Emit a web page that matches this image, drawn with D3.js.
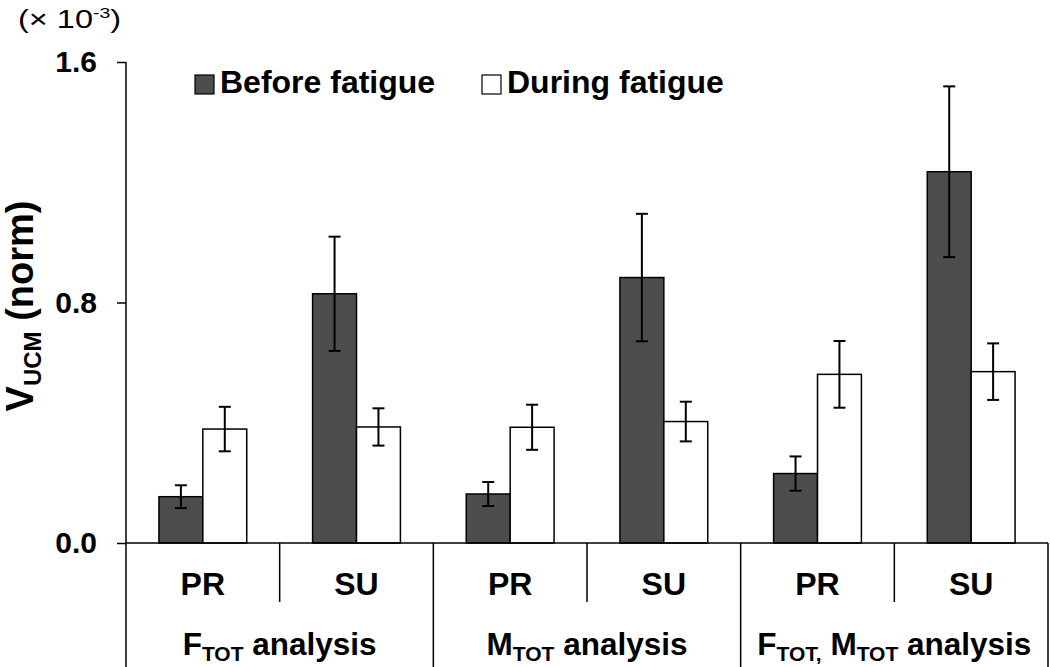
<!DOCTYPE html>
<html><head><meta charset="utf-8">
<script src="https://cdn.jsdelivr.net/npm/d3@7"></script>
<style>
body{margin:0;background:#fff;}
text{font-family:"Liberation Sans",Arial,sans-serif;fill:#000;}
</style></head>
<body><svg id="c" width="1050" height="667"></svg>
<script>
const categories = ["PR","SU","PR","SU","PR","SU"];
const groups = ["F","M","FM"];
const series = ["Before fatigue","During fatigue"];
const beforeVals = [0.154, 0.829, 0.163, 0.883, 0.231, 1.235];
const beforeErr  = [0.038, 0.190, 0.040, 0.212, 0.057, 0.284];
const duringVals = [0.379, 0.386, 0.385, 0.404, 0.561, 0.570];
const duringErr  = [0.074, 0.062, 0.075, 0.066, 0.111, 0.094];
const yTicks = [0.0, 0.8, 1.6];

const svg = d3.select("#c");
const plotLeft = 126, plotRight = 1048, plotTop = 62, base = 543;
const y = d3.scaleLinear().domain([0,1.6]).range([base, plotTop]);
const idx = d3.range(categories.length);
const x0 = d3.scaleBand().domain(idx).range([plotLeft,plotRight]).padding(0);
const x1 = d3.scaleBand().domain(series).range([0,x0.bandwidth()]).paddingInner(0).paddingOuter(0.75);
const colors = {"Before fatigue":"#4d4d4d","During fatigue":"#ffffff"};
const vals = {"Before fatigue":beforeVals,"During fatigue":duringVals};
const errs = {"Before fatigue":beforeErr,"During fatigue":duringErr};

// y axis
const yAxis = d3.axisLeft(y).tickValues(yTicks).tickFormat(d3.format(".1f")).tickSize(9).tickPadding(20);
const ga = svg.append("g").attr("transform",`translate(${plotLeft},0)`).call(yAxis);
ga.select(".domain").remove();
ga.selectAll(".tick line").attr("stroke","#000").attr("stroke-width",1.5);
ga.selectAll(".tick text").attr("font-size",30).attr("font-weight","bold").attr("font-family","Liberation Sans, Arial, sans-serif").attr("fill","#000");
svg.append("line").attr("x1",plotLeft).attr("x2",plotLeft).attr("y1",plotTop).attr("y2",667).attr("stroke","#000").attr("stroke-width",1.5);

// bars
series.forEach(s=>{
  const g = svg.append("g");
  g.selectAll("rect").data(idx).join("rect")
    .attr("x",i=>x0(i)+x1(s)).attr("width",x1.bandwidth())
    .attr("y",i=>y(vals[s][i])).attr("height",i=>base-y(vals[s][i]))
    .attr("fill",colors[s]).attr("stroke","#000").attr("stroke-width",1.5);
});
// error bars
series.forEach(s=>{
  const g = svg.append("g").attr("stroke","#000").attr("stroke-width",2);
  idx.forEach(i=>{
    const cx = x0(i)+x1(s)+x1.bandwidth()/2;
    const v = vals[s][i], e = errs[s][i];
    g.append("line").attr("x1",cx).attr("x2",cx).attr("y1",y(v+e)).attr("y2",y(v-e));
    g.append("line").attr("x1",cx-6).attr("x2",cx+6).attr("y1",y(v+e)).attr("y2",y(v+e));
    g.append("line").attr("x1",cx-6).attr("x2",cx+6).attr("y1",y(v-e)).attr("y2",y(v-e));
  });
});

// baseline
svg.append("line").attr("x1",plotLeft).attr("x2",plotRight).attr("y1",base).attr("y2",base).attr("stroke","#000").attr("stroke-width",1.5);
// dividers
idx.forEach(i=>{
  const xr = x0(i)+x0.bandwidth();
  const long = (i%2===1);
  svg.append("line").attr("x1",xr).attr("x2",xr).attr("y1",base).attr("y2",long?667:602).attr("stroke","#000").attr("stroke-width",1.5);
});
// category labels
svg.append("g").selectAll("text").data(idx).join("text")
  .attr("x",i=>x0(i)+x0.bandwidth()/2).attr("y",595).attr("text-anchor","middle")
  .attr("font-size",32).attr("font-weight","bold").text(i=>categories[i]);

// group labels
function groupLabel(g, cx){
  const t = svg.append("text").attr("x",cx).attr("y",655).attr("text-anchor","middle").attr("font-size",31.5).attr("font-weight","bold");
  const sub = (txt)=>t.append("tspan").attr("font-size",21).attr("dy",6).text(txt);
  const norm = (txt)=>t.append("tspan").attr("font-size",31.5).attr("dy",-6).text(txt);
  if(g==="F"){ t.append("tspan").text("F"); sub("TOT"); norm(" analysis"); }
  else if(g==="M"){ t.append("tspan").text("M"); sub("TOT"); norm(" analysis"); }
  else { t.append("tspan").text("F"); sub("TOT,"); norm(" M"); sub("TOT"); norm(" analysis"); }
}
groups.forEach((g,k)=>{
  const cx = x0(2*k) + x0.bandwidth();
  groupLabel(g,cx);
});

// legend
const leg = [{s:series[0],x:195},{s:series[1],x:482}];
leg.forEach(l=>{
  svg.append("rect").attr("x",l.x).attr("y",75).attr("width",19).attr("height",19).attr("fill",colors[l.s]).attr("stroke","#000").attr("stroke-width",1.2);
  svg.append("text").attr("x",l.x+25).attr("y",93).attr("font-size",32).attr("font-weight","bold").text(l.s);
});

// y title
const yt = svg.append("text").attr("transform","translate(33,306) rotate(-90)").attr("text-anchor","middle").attr("font-size",38).attr("font-weight","bold");
yt.append("tspan").text("V");
yt.append("tspan").attr("font-size",24).attr("dy",8).text("UCM");
yt.append("tspan").attr("dy",-8).text(" (norm)");

// multiplier
const mt = svg.append("text").attr("transform","translate(18,28) scale(1.3,1)").attr("font-size",25);
mt.append("tspan").text("(× 10");
mt.append("tspan").attr("font-size",15).attr("dy",-10).text("-3");
mt.append("tspan").attr("dy",10).text(")");
</script></body></html>
